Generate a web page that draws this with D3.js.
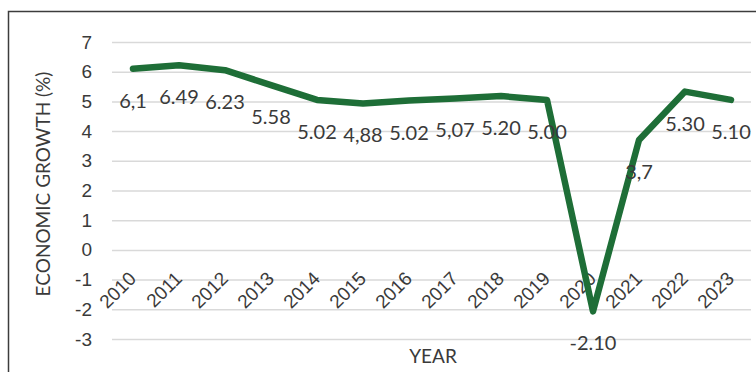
<!DOCTYPE html>
<html>
<head>
<meta charset="utf-8">
<script src="https://cdn.jsdelivr.net/npm/d3@7"></script>
<style>
  html, body { margin: 0; padding: 0; background: #fff; }
  svg { display: block; font-family: Lato, "Open Sans", sans-serif; }
</style>
</head>
<body>
<svg id="chart" width="756" height="372"></svg>
<script>
// Data
const years = ["2010","2011","2012","2013","2014","2015","2016","2017","2018","2019","2020","2021","2022","2023"];
const growth = [6.1, 6.22, 6.05, 5.55, 5.05, 4.93, 5.03, 5.1, 5.18, 5.05, -2.07, 3.7, 5.33, 5.05];
const labelTexts = ["6,1","6.49","6.23","5.58","5.02","4,88","5.02","5,07","5.20","5.00","-2.10","3,7","5.30","5.10"];
const yTicks = [-3, -2, -1, 0, 1, 2, 3, 4, 5, 6, 7];

const svg = d3.select("#chart");
const textColor = "#3a3a3a";

// frame
svg.append("rect")
  .attr("x", 8.5).attr("y", 11.5)
  .attr("width", 800).attr("height", 400)
  .attr("fill", "none").attr("stroke", "#3c3c3c").attr("stroke-width", 1.5);

const x = d3.scalePoint().domain(years).range([133, 731]);
const y = d3.scaleLinear().domain([-3, 7]).range([339, 42]);
const gridLeft = 112, gridRight = 751;

// y axis with gridlines
const gy = svg.append("g")
  .attr("transform", `translate(${gridLeft},0)`)
  .call(d3.axisLeft(y).tickValues(yTicks).tickFormat(d => String(d))
    .tickSize(-(gridRight - gridLeft)).tickPadding(20));
gy.select(".domain").remove();
gy.selectAll(".tick line").attr("stroke", "#d9d9d9").attr("stroke-width", 1.5);
gy.selectAll(".tick text")
  .attr("fill", textColor).style("font-size", "19px");

// x axis labels (rotated)
const gx = svg.append("g")
  .attr("transform", "translate(0,277)")
  .call(d3.axisBottom(x).tickSize(0).tickPadding(0));
gx.select(".domain").remove();
gx.selectAll(".tick text")
  .attr("y", 0).attr("dy", "0.35em")
  .attr("text-anchor", "end")
  .attr("transform", "translate(-1,-2) rotate(-45)")
  .attr("fill", textColor).style("font-size", "19px");

// line
const line = d3.line()
  .x((d, i) => x(years[i]))
  .y(d => y(d));
svg.append("path")
  .datum(growth)
  .attr("d", line)
  .attr("fill", "none")
  .attr("stroke", "#1e6e37")
  .attr("stroke-width", 6.5)
  .attr("stroke-linejoin", "round")
  .attr("stroke-linecap", "round");

// data labels
svg.append("g").selectAll("text")
  .data(growth)
  .join("text")
  .attr("x", (d, i) => x(years[i]))
  .attr("y", d => y(d) + 31)
  .attr("text-anchor", "middle")
  .attr("dominant-baseline", "central")
  .attr("fill", textColor)
  .style("font-size", "20px")
  .text((d, i) => labelTexts[i]);

// axis titles
svg.append("text")
  .attr("transform", "translate(42,184) rotate(-90)")
  .attr("text-anchor", "middle")
  .attr("dominant-baseline", "central")
  .attr("fill", textColor)
  .style("font-size", "19px")
  .text("ECONOMIC GROWTH (%)");

svg.append("text")
  .attr("x", 433).attr("y", 355)
  .attr("text-anchor", "middle")
  .attr("dominant-baseline", "central")
  .attr("fill", textColor)
  .style("font-size", "19px")
  .text("YEAR");
</script>
</body>
</html>
